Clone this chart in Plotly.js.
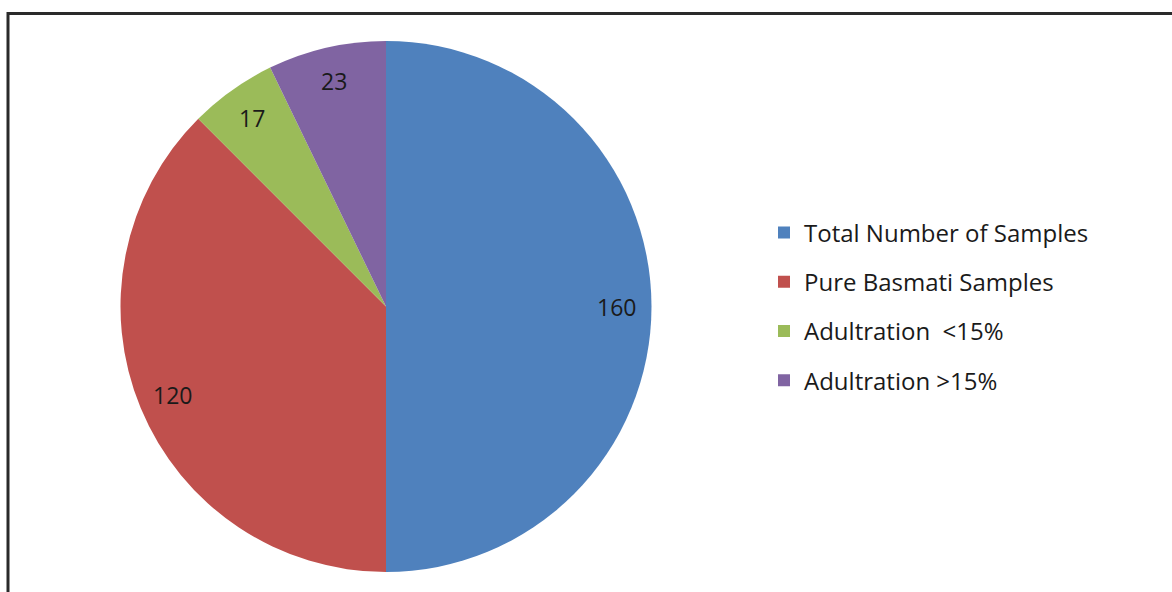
<!DOCTYPE html>
<html>
<head>
<meta charset="utf-8">
<script src="https://cdn.plot.ly/plotly-3.0.1.min.js"></script>
<style>
  html, body { margin: 0; padding: 0; background: #ffffff; }
  #chart { width: 1172px; height: 592px; }
</style>
</head>
<body>
<div id="chart"></div>
<script>
// ---- data ----
const categories = ["Total Number of Samples", "Pure Basmati Samples", "Adultration  <15%", "Adultration >15%"];
const values = [160, 120, 17, 23];
const sliceColors = ["#4F81BD", "#C0504D", "#9BBB59", "#8064A2"];

// ---- geometry (pixels) ----
const W = 1172, H = 592;
const CX = 386, CY = 306.5, R = 265.5;
const LABEL_FRAC = 0.87;
const FONT = "'Open Sans', Lato, 'DejaVu Sans', sans-serif";

const total = values.reduce((a, b) => a + b, 0);

// slice label annotations placed along each slice bisector
const annotations = [];
let cum = 0;
values.forEach((v, i) => {
  const mid = (cum + v / 2) / total * 2 * Math.PI; // clockwise from 12 o'clock
  cum += v;
  const px = CX + LABEL_FRAC * R * Math.sin(mid);
  const py = CY - LABEL_FRAC * R * Math.cos(mid);
  annotations.push({
    xref: "paper", yref: "paper",
    x: px / W, y: 1 - py / H,
    xanchor: "center", yanchor: "middle",
    text: String(v), showarrow: false,
    font: { family: FONT, size: 23, color: "#1a1a1a" }
  });
});

const pie = {
  type: "pie",
  labels: categories,
  values: values,
  sort: false,
  direction: "clockwise",
  rotation: 0,
  textinfo: "none",
  hoverinfo: "label+value",
  showlegend: false,
  marker: { colors: sliceColors, line: { width: 0 } },
  domain: { x: [(CX - R) / W, (CX + R) / W], y: [1 - (CY + R) / H, 1 - (CY - R) / H] }
};

// legend entries (no data points drawn)
const legendTraces = categories.map((c, i) => ({
  type: "scatter", mode: "markers",
  x: [null], y: [null],
  name: c,
  legendgroup: "g" + i,
  marker: { symbol: "square", size: 12, color: sliceColors[i] },
  hoverinfo: "skip",
  showlegend: true
}));

const layout = {
  width: W, height: H,
  margin: { l: 0, r: 0, t: 0, b: 0 },
  paper_bgcolor: "#ffffff",
  plot_bgcolor: "#ffffff",
  xaxis: { visible: false },
  yaxis: { visible: false },
  showlegend: true,
  legend: {
    x: 764 / W, xanchor: "left",
    y: 1 - 306.5 / H, yanchor: "middle",
    traceorder: "grouped",
    tracegroupgap: 15,
    font: { family: FONT, size: 24, color: "#1a1a1a" },
    bgcolor: "rgba(0,0,0,0)",
    itemclick: false, itemdoubleclick: false
  },
  annotations: annotations,
  shapes: [{
    type: "rect", xref: "paper", yref: "paper",
    x0: 8 / W, x1: 1.05, y0: -0.1, y1: 1 - 13.5 / H,
    line: { color: "#2a2a2a", width: 3 },
    fillcolor: "rgba(0,0,0,0)", layer: "above"
  }]
};

Plotly.newPlot("chart", [pie].concat(legendTraces), layout, { displayModeBar: false, staticPlot: true });
</script>
</body>
</html>
